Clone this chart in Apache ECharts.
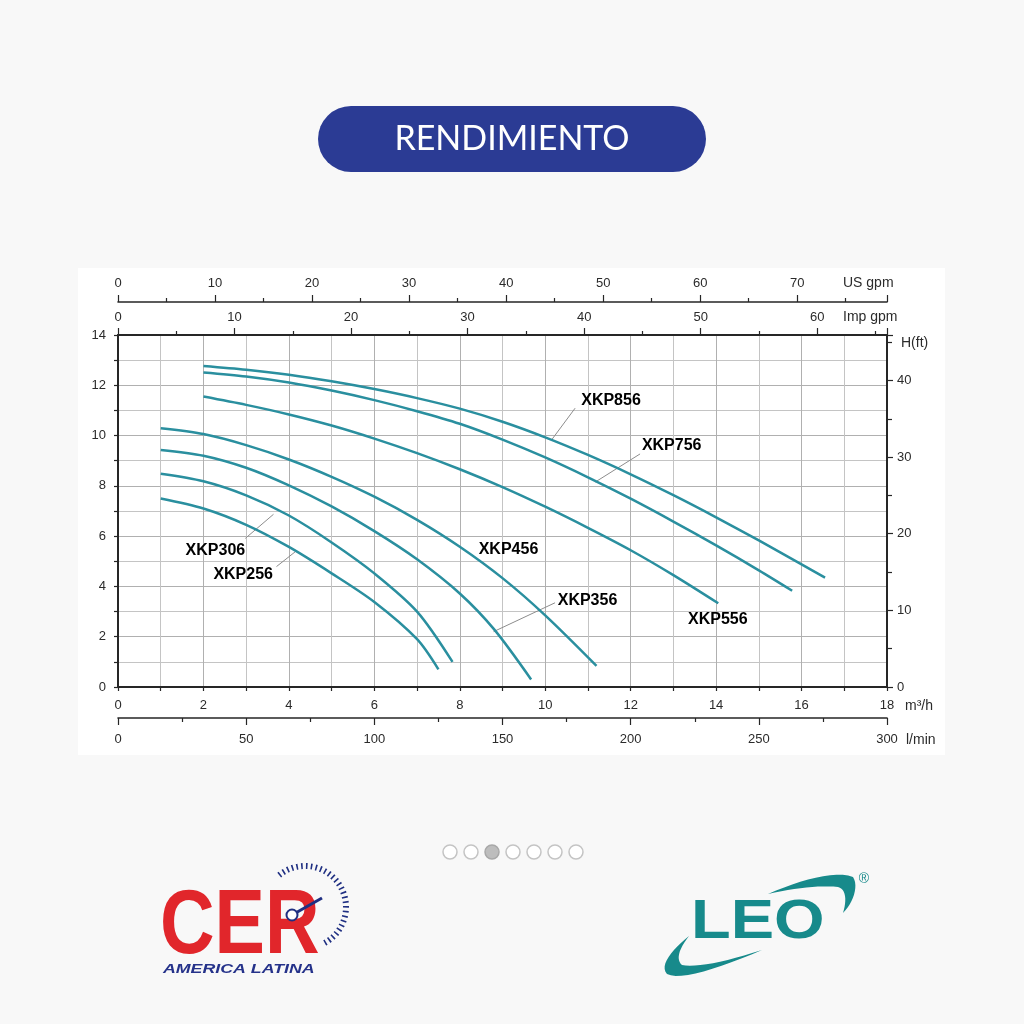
<!DOCTYPE html>
<html>
<head>
<meta charset="utf-8">
<script src="https://cdn.jsdelivr.net/npm/echarts@6/dist/echarts.min.js"></script>
<style>
html,body{margin:0;padding:0;background:#f8f8f8;}
#wrap{position:relative;width:1024px;height:1024px;}
#panel{position:absolute;left:78px;top:268px;width:867px;height:487px;background:#ffffff;}
#c{position:absolute;left:0;top:0;width:1024px;height:1024px;}
</style>
</head>
<body>
<div id="wrap"><div id="panel"></div><div id="c"></div></div>
<script>
// ---- Data (flow Q in m3/h, head H in m) ----
const curveNames = ['XKP256','XKP306','XKP356','XKP456','XKP556','XKP756','XKP856'];
const xkp256 = [[1.0,7.5],[2,7.1],[3,6.45],[4,5.57],[5,4.52],[6,3.38],[7,1.9],[7.5,0.7]];
const xkp306 = [[1.0,8.48],[2,8.18],[3,7.62],[4,6.82],[5,5.75],[6,4.52],[7,3.0],[7.83,1.0]];
const xkp356 = [[1.0,9.43],[2,9.2],[3,8.72],[4,8.02],[5,7.18],[6,6.2],[7,5.08],[8,3.72],[8.8,2.3],[9.67,0.3]];
const xkp456 = [[1.0,10.29],[2,10.06],[3,9.62],[4,9.05],[5,8.36],[6,7.57],[7,6.65],[8,5.58],[9,4.33],[10,2.85],[11.2,0.84]];
const xkp556 = [[2.0,11.55],[3,11.22],[4,10.84],[5,10.4],[6,9.88],[7,9.3],[8,8.66],[9,7.95],[10,7.17],[11,6.33],[12,5.44],[13,4.45],[14.05,3.33]];
const xkp756 = [[2.0,12.51],[3,12.35],[4,12.11],[5,11.79],[6,11.41],[7,10.97],[8,10.47],[9,9.84],[10,9.13],[11,8.34],[12,7.49],[13,6.58],[14,5.63],[15,4.64],[15.78,3.83]];
const xkp856 = [[2.0,12.77],[3,12.62],[4,12.42],[5,12.16],[6,11.85],[7,11.49],[8,11.07],[9,10.55],[10,9.93],[11,9.23],[12,8.46],[13,7.63],[14,6.75],[15,5.83],[16,4.88],[16.55,4.35]];
const curveData = [xkp256, xkp306, xkp356, xkp456, xkp556, xkp756, xkp856];

// annotation labels: [Q, H, text] and leader lines [[Q1,H1],[Q2,H2]] in data units
const labelAnchors = [[2.28,5.42,'XKP306'],[2.93,4.46,'XKP256'],[9.14,5.45,'XKP456'],[10.99,3.43,'XKP356'],[14.04,2.70,'XKP556'],[11.54,11.39,'XKP856'],[12.96,9.6,'XKP756']];
const leaders = [
  [[2.98,5.91],[3.64,6.87]],
  [[3.71,4.79],[4.15,5.38]],
  [[10.23,3.35],[8.79,2.2]],
  [[10.7,11.09],[10.15,9.83]],
  [[12.22,9.27],[11.17,8.15]]
];

// axis ranges (unit conversions of 0..18 m3/h and 0..14 m)
const qMax = 18, hMax = 14;
const lminMax = 300;
const impMax = qMax * 1000 / 60 / 4.54609;
const usMax = qMax * 1000 / 60 / 3.785411784;
const ftMax = hMax / 0.3048;

const FONT = "'Liberation Sans Narrow','Liberation Sans',Arial,sans-serif";
const AX = '#262626';
const lab = (margin) => ({margin, color:'#2b2b2b', fontSize:13, fontFamily:FONT, showMaxLabel:false,
  formatter: v => (Math.abs(v - Math.round(v)) < 1e-6 ? String(Math.round(v)) : '')});
const labShowMax = (margin) => ({margin, color:'#2b2b2b', fontSize:13, fontFamily:FONT});

const chart = echarts.init(document.getElementById('c'), null, {width:1024, height:1024});

const lineSeries = curveData.map((d, i) => ({
  type:'line', name:curveNames[i], data:d, xAxisIndex:0, yAxisIndex:0,
  smooth:0.3, symbol:'none', showSymbol:false, silent:true, z:3,
  lineStyle:{color:'#2a8f9f', width:2.5}
}));
const leaderSeries = leaders.map(l => ({
  type:'line', data:l, xAxisIndex:0, yAxisIndex:0, symbol:'none', showSymbol:false, silent:true, z:2,
  lineStyle:{color:'#8c8c8c', width:1}
}));
const labelSeries = {
  type:'scatter', data:labelAnchors, xAxisIndex:0, yAxisIndex:0, symbolSize:0, silent:true, z:5,
  itemStyle:{color:'#000'},
  label:{show:true, position:'inside', formatter:p => p.value[2], color:'#000', opacity:1,
    fontSize:16, fontWeight:'bold', fontFamily:"'Liberation Sans',Arial,sans-serif"}
};

function txt(x, y, text, opts) {
  opts = opts || {};
  return {type:'text', x, y, silent:true, z:opts.z || 10, scaleX:opts.scaleX || 1, scaleY:opts.scaleY || 1,
    style:Object.assign({text, fill:opts.fill || '#2b2b2b', font:opts.font || ('13px ' + FONT),
      textAlign:opts.align || 'left', align:opts.align || 'left',
      textVerticalAlign:'middle', verticalAlign:'middle'}, opts.extra || {})};
}

// sample a chain of cubic bezier segments into polygon points (decorative logo shapes)
function bez(start, segs) {
  const pts = [start];
  let p0 = start;
  segs.forEach(s => {
    const [p1, p2, p3] = s;
    for (let i = 1; i <= 12; i++) {
      const t = i / 12, u = 1 - t;
      pts.push([
        u*u*u*p0[0] + 3*u*u*t*p1[0] + 3*u*t*t*p2[0] + t*t*t*p3[0],
        u*u*u*p0[1] + 3*u*u*t*p1[1] + 3*u*t*t*p2[1] + t*t*t*p3[1]
      ]);
    }
    p0 = p3;
  });
  return pts;
}
const swooshTop = bez([768,894], [[[800,880],[835,870],[853,877]], [[859,886],[853,903],[843,913]], [[847,900],[846,889],[838,887]], [[820,885],[795,888],[768,894]]]);
const swooshBottom = bez([689,936], [[[672,950],[659,965],[667,974]], [[680,981],[720,968],[762,950]], [[725,962],[695,968],[682,965]], [[676,960],[678,950],[689,936]]]);

const dots = [];
for (let i = 0; i < 7; i++) {
  dots.push({type:'circle', shape:{cx:450 + 21 * i, cy:852, r:7}, silent:true,
    style:{fill: i === 2 ? '#bdbdbd' : '#ffffff', stroke: i === 2 ? '#a8a8a8' : '#c4c4c4', lineWidth:1.5}});
}

const graphics = [
  {type:'rect', shape:{x:318, y:106, width:388, height:66, r:33}, style:{fill:'#2b3b94'}, silent:true},
  txt(512, 139, 'RENDIMIENTO', {fill:'#ffffff', font:"400 34px Lato, 'Open Sans', sans-serif", align:'center'}),
  txt(843, 283, 'US gpm', {font:'14px ' + FONT}),
  txt(843, 317, 'Imp gpm', {font:'14px ' + FONT}),
  txt(901, 343, 'H(ft)', {font:'14px ' + FONT}),
  txt(905, 706, 'm³/h', {font:'14px ' + FONT}),
  txt(906, 740, 'l/min', {font:'14px ' + FONT}),
  ...dots,
  {type:'arc', shape:{cx:305, cy:907, r:41, startAngle:-129 * Math.PI / 180, endAngle:63 * Math.PI / 180, clockwise:true},
    silent:true, style:{stroke:'#1f2f82', lineWidth:6, fill:null, lineDash:[1.6, 3.2]}},
  txt(160, 928, 'CER', {fill:'#e1262b', font:"bold 90px 'Liberation Sans', Arial, sans-serif", scaleX:0.84}),
  {type:'line', shape:{x1:292, y1:915, x2:322, y2:898}, silent:true, z:11, style:{stroke:'#1f2f82', lineWidth:3}},
  {type:'circle', shape:{cx:292, cy:915, r:5.5}, silent:true, z:12, style:{fill:'#ffffff', stroke:'#1f2f82', lineWidth:2}},
  txt(163, 970, 'AMERICA LATINA', {fill:'#25328a', font:"italic bold 12px 'Liberation Sans', Arial, sans-serif", scaleX:1.48}),
  {type:'polygon', silent:true, shape:{points:swooshTop}, style:{fill:'#178a8b'}},
  {type:'polygon', silent:true, shape:{points:swooshBottom}, style:{fill:'#178a8b'}},
  txt(691, 923, 'LEO', {fill:'#178a8b', font:"bold 56px 'Liberation Sans', Arial, sans-serif", scaleX:1.16}),
  txt(864, 879, '®', {fill:'#178a8b', font:"14px 'Liberation Sans', Arial, sans-serif", align:'center'})
];

const option = {
  backgroundColor:'transparent',
  animation:false,
  grid:{left:118, right:137, top:335, bottom:337, containLabel:false},
  xAxis:[
    {type:'value', position:'bottom', min:0, max:qMax, interval:2,
      axisLine:{show:true, onZero:false, lineStyle:{color:AX, width:2}},
      axisTick:{show:true, length:4, lineStyle:{color:AX, width:1.2}},
      minorTick:{show:true, splitNumber:2, length:4, lineStyle:{color:AX, width:1.2}},
      axisLabel:labShowMax(12),
      splitLine:{show:true, lineStyle:{color:'#b0b0b0', width:1}},
      minorSplitLine:{show:true, lineStyle:{color:'#c4c4c4', width:1}}},
    {type:'value', position:'bottom', offset:31, min:0, max:lminMax, interval:50,
      axisLine:{show:true, onZero:false, lineStyle:{color:AX, width:1.6}},
      axisTick:{show:true, length:7, lineStyle:{color:AX, width:1.2}},
      minorTick:{show:true, splitNumber:2, length:4, lineStyle:{color:AX, width:1.2}},
      axisLabel:labShowMax(15), splitLine:{show:false}},
    {type:'value', position:'top', offset:0, min:0, max:impMax, interval:10,
      axisLine:{show:true, onZero:false, lineStyle:{color:AX, width:2}},
      axisTick:{show:true, length:7, lineStyle:{color:AX, width:1.2}},
      minorTick:{show:true, splitNumber:2, length:4, lineStyle:{color:AX, width:1.2}},
      axisLabel:lab(11), splitLine:{show:false}},
    {type:'value', position:'top', offset:33, min:0, max:usMax, interval:10,
      axisLine:{show:true, onZero:false, lineStyle:{color:AX, width:1.6}},
      axisTick:{show:true, length:7, lineStyle:{color:AX, width:1.2}},
      minorTick:{show:true, splitNumber:2, length:4, lineStyle:{color:AX, width:1.2}},
      axisLabel:lab(12), splitLine:{show:false}}
  ],
  yAxis:[
    {type:'value', position:'left', min:0, max:hMax, interval:2,
      axisLine:{show:true, onZero:false, lineStyle:{color:AX, width:2}},
      axisTick:{show:true, length:4, lineStyle:{color:AX, width:1.2}},
      minorTick:{show:true, splitNumber:2, length:4, lineStyle:{color:AX, width:1.2}},
      axisLabel:labShowMax(12),
      splitLine:{show:true, lineStyle:{color:'#b0b0b0', width:1}},
      minorSplitLine:{show:true, lineStyle:{color:'#c4c4c4', width:1}}},
    {type:'value', position:'right', min:0, max:ftMax, interval:10,
      axisLine:{show:true, onZero:false, lineStyle:{color:AX, width:2}},
      axisTick:{show:true, length:6, lineStyle:{color:AX, width:1.2}},
      minorTick:{show:true, splitNumber:2, length:5, lineStyle:{color:AX, width:1.2}},
      axisLabel:lab(10), splitLine:{show:false}}
  ],
  graphic:{elements:graphics},
  series:[...lineSeries, ...leaderSeries, labelSeries]
};
chart.setOption(option);
</script>
</body>
</html>
